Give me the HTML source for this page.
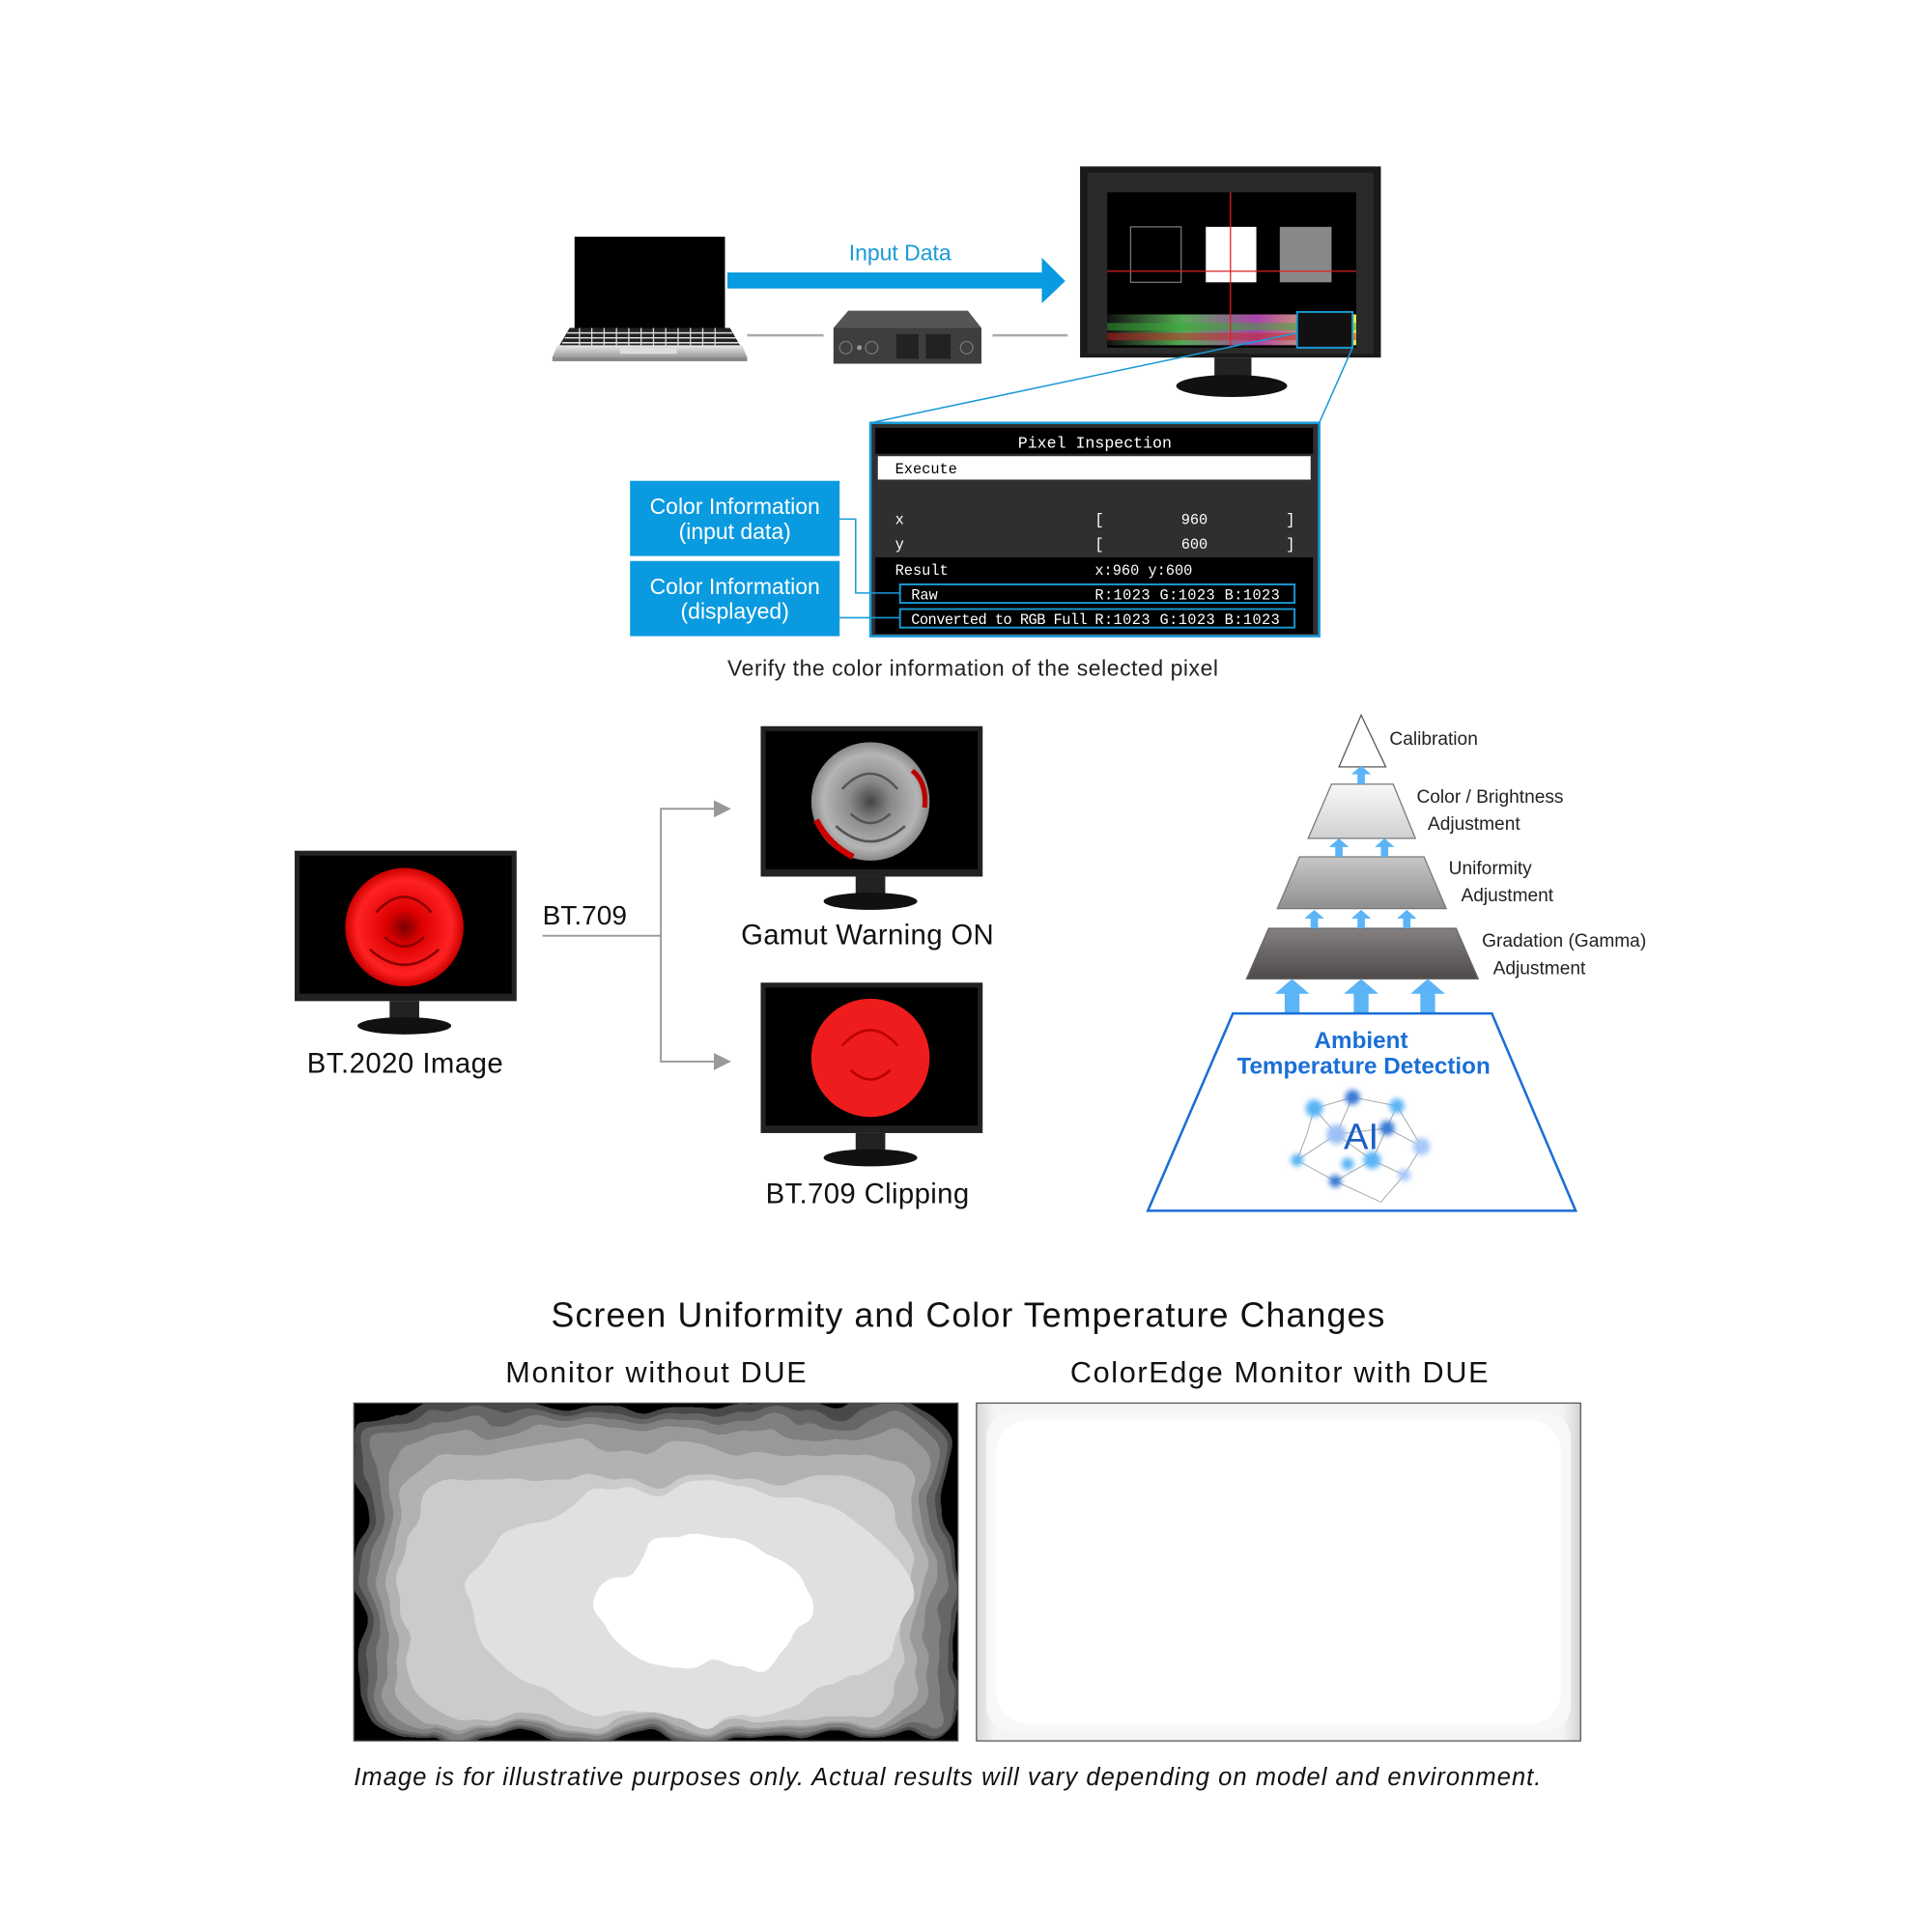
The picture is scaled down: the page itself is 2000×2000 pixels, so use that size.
<!DOCTYPE html>
<html><head><meta charset="utf-8"><style>
html,body{margin:0;padding:0;background:#fff;}
svg{display:block;font-family:"Liberation Sans",sans-serif;}
</style></head><body>
<svg width="2000" height="2000" viewBox="0 0 1567 1567" xmlns="http://www.w3.org/2000/svg">
<defs>
<linearGradient id="silver" x1="0" y1="0" x2="0" y2="1"><stop offset="0" stop-color="#e8e8e8"/><stop offset="1" stop-color="#9a9a9a"/></linearGradient>
<linearGradient id="spec" x1="0" y1="0" x2="1" y2="0"><stop offset="0" stop-color="#111"/><stop offset="0.3" stop-color="#5a5"/><stop offset="0.6" stop-color="#a4a"/><stop offset="1" stop-color="#ee4"/></linearGradient>
<linearGradient id="t2" x1="0" y1="0" x2="0" y2="1"><stop offset="0" stop-color="#f8f8f8"/><stop offset="1" stop-color="#d0d0d0"/></linearGradient>
<linearGradient id="t3" x1="0" y1="0" x2="0" y2="1"><stop offset="0" stop-color="#c8c6c6"/><stop offset="1" stop-color="#918e8e"/></linearGradient>
<linearGradient id="t4" x1="0" y1="0" x2="0" y2="1"><stop offset="0" stop-color="#858181"/><stop offset="1" stop-color="#4f4a4a"/></linearGradient>
<radialGradient id="rose" cx="0.5" cy="0.5" r="0.5"><stop offset="0" stop-color="#7a0000"/><stop offset="0.3" stop-color="#d00"/><stop offset="0.8" stop-color="#f22"/><stop offset="1" stop-color="#c00"/></radialGradient>
<radialGradient id="grose" cx="0.5" cy="0.5" r="0.5"><stop offset="0" stop-color="#444"/><stop offset="0.35" stop-color="#8a8a8a"/><stop offset="0.8" stop-color="#b5b5b5"/><stop offset="1" stop-color="#888"/></radialGradient>
<linearGradient id="rgrad" x1="0" y1="0" x2="1" y2="0"><stop offset="0" stop-color="#d8d8d8"/><stop offset="0.03" stop-color="#f4f4f4"/><stop offset="0.97" stop-color="#f4f4f4"/><stop offset="1" stop-color="#d4d4d4"/></linearGradient>
<filter id="rough"><feTurbulence type="fractalNoise" baseFrequency="0.02" numOctaves="2" seed="3"/><feDisplacementMap in="SourceGraphic" scale="30"/></filter>
<filter id="blur"><feGaussianBlur stdDeviation="2"/></filter>
<clipPath id="lp"><rect x="287" y="1138" width="490" height="274"/></clipPath>
</defs>

<!-- Laptop -->
<rect x="466" y="192" width="122" height="74" fill="#000"/>
<polygon points="462,266 592,266 606,290 448,290" fill="#222"/>
<g stroke="#ddd" stroke-width="1.2">
<line x1="460" y1="270" x2="594" y2="270"/><line x1="458" y1="274" x2="597" y2="274"/><line x1="456" y1="278" x2="599" y2="278"/>
</g>
<g stroke="#ddd" stroke-width="1"><path d="M470 266v14M480 266v14M490 266v14M500 266v14M510 266v14M520 266v14M530 266v14M540 266v14M550 266v14M560 266v14M570 266v14M580 266v14"/></g>
<polygon points="452,280 602,280 606,290 448,290" fill="url(#silver)"/>
<rect x="503" y="282" width="46" height="5" fill="#ddd"/>
<rect x="448" y="290" width="158" height="3" fill="#888"/>

<!-- arrow -->
<text x="730" y="211" font-size="18" fill="#1a9ad6" text-anchor="middle">Input Data</text>
<rect x="590" y="221" width="256" height="13" fill="#0a9ae0"/>
<polygon points="845,209 864,228 845,246" fill="#0a9ae0"/>
<line x1="606" y1="272" x2="668" y2="272" stroke="#aaa" stroke-width="2"/>
<line x1="805" y1="272" x2="866" y2="272" stroke="#aaa" stroke-width="2"/>
<!-- device -->
<polygon points="688,252 785,252 796,266 676,266" fill="#555"/>
<rect x="676" y="266" width="120" height="29" fill="#3e3e3e"/>
<circle cx="686" cy="282" r="5" fill="none" stroke="#777"/><circle cx="697" cy="282" r="2" fill="#999"/><circle cx="707" cy="282" r="5" fill="none" stroke="#777"/>
<rect x="727" y="271" width="18" height="20" fill="#222"/><rect x="751" y="271" width="20" height="20" fill="#222"/><circle cx="784" cy="282" r="5" fill="none" stroke="#777"/>

<!-- big monitor -->
<rect x="876" y="135" width="244" height="155" fill="#1a1a1a"/>
<rect x="882" y="140" width="232" height="147" fill="#2a2a2a"/>
<rect x="898" y="156" width="202" height="126" fill="#000"/>
<rect x="898" y="255" width="202" height="25" fill="url(#spec)"/>
<rect x="898" y="262" width="202" height="6" fill="#3a3" opacity="0.5"/>
<rect x="898" y="270" width="202" height="6" fill="#c22" opacity="0.5"/>
<rect x="917" y="184" width="41" height="45" fill="none" stroke="#777"/>
<rect x="978" y="184" width="41" height="45" fill="#fff"/>
<rect x="1038" y="184" width="42" height="45" fill="#888"/>
<line x1="998" y1="156" x2="998" y2="282" stroke="#d22" stroke-width="1"/>
<line x1="898" y1="220" x2="1100" y2="220" stroke="#d22" stroke-width="1"/>
<rect x="1052" y="253" width="45" height="29" fill="#111" stroke="#1a9ad6" stroke-width="1.5"/>
<rect x="985" y="290" width="30" height="18" fill="#222"/>
<ellipse cx="999" cy="313" rx="45" ry="9" fill="#111"/>
<line x1="1052" y1="270" x2="706" y2="343" stroke="#1a9ad6" stroke-width="1.2"/>
<line x1="1097" y1="282" x2="1070" y2="343" stroke="#1a9ad6" stroke-width="1.2"/>

<!-- panel -->
<rect x="706" y="343" width="364" height="173" fill="#2f2f2f" stroke="#1a9ad6" stroke-width="2"/>
<rect x="710" y="347" width="355" height="21" fill="#000"/>
<text x="888" y="363" font-size="13" fill="#fff" text-anchor="middle" font-family="Liberation Mono,monospace">Pixel Inspection</text>
<rect x="712" y="370" width="351" height="19" fill="#fff"/>
<text x="726" y="384" font-size="12" fill="#000" font-family="Liberation Mono,monospace">Execute</text>
<g font-size="12" fill="#fff" font-family="Liberation Mono,monospace">
<text x="726" y="425">x</text><text x="888" y="425">[</text><text x="958" y="425">960</text><text x="1043" y="425">]</text>
<text x="726" y="445">y</text><text x="888" y="445">[</text><text x="958" y="445">600</text><text x="1043" y="445">]</text>
</g>
<rect x="710" y="452" width="355" height="62" fill="#000"/>
<g font-size="12" fill="#fff" font-family="Liberation Mono,monospace">
<text x="726" y="466">Result</text><text x="888" y="466">x:960  y:600</text>
<rect x="730" y="474" width="320" height="15" fill="none" stroke="#1a9ad6" stroke-width="1.5"/>
<text x="739" y="486">Raw</text><text x="888" y="486" textLength="150">R:1023 G:1023 B:1023</text>
<rect x="730" y="494" width="320" height="15" fill="none" stroke="#1a9ad6" stroke-width="1.5"/>
<text x="739" y="506" textLength="143">Converted to RGB Full</text><text x="888" y="506" textLength="150">R:1023 G:1023 B:1023</text>
</g>
<rect x="511" y="390" width="170" height="61" fill="#0a9ae0"/>
<rect x="511" y="455" width="170" height="61" fill="#0a9ae0"/>
<g font-size="18" fill="#fff" text-anchor="middle">
<text x="596" y="417">Color Information</text><text x="596" y="437">(input data)</text>
<text x="596" y="482">Color Information</text><text x="596" y="502">(displayed)</text>
</g>
<polyline points="681,421 694,421 694,481 730,481" fill="none" stroke="#1a9ad6" stroke-width="1.2"/>
<line x1="681" y1="501" x2="730" y2="501" stroke="#1a9ad6" stroke-width="1.2"/>
<text x="590" y="548" font-size="18" fill="#222" textLength="398">Verify the color information of the selected pixel</text>

<!-- middle monitors -->
<g>
<rect x="239" y="690" width="180" height="122" fill="#222"/><rect x="243" y="694" width="172" height="112" fill="#000"/>
<circle cx="328" cy="752" r="48" fill="url(#rose)"/>
<g fill="none" stroke="#8a0000" stroke-width="2"><path d="M305 740q23-25 45 0"/><path d="M312 760q16 15 32 0"/><path d="M300 770q28 25 56 0"/></g>
<rect x="316" y="812" width="24" height="16" fill="#222"/><ellipse cx="328" cy="832" rx="38" ry="7" fill="#111"/>
</g>
<text x="249" y="870" font-size="23" fill="#111" textLength="159">BT.2020 Image</text>
<text x="440" y="750" font-size="22" fill="#111">BT.709</text>
<polyline points="440,759 536,759" fill="none" stroke="#999" stroke-width="1.5"/>
<polyline points="580,656 536,656 536,861 580,861" fill="none" stroke="#999" stroke-width="1.5"/>
<polygon points="579,649 593,656 579,663" fill="#999"/><polygon points="579,854 593,861 579,868" fill="#999"/>

<rect x="617" y="589" width="180" height="122" fill="#222"/><rect x="621" y="593" width="172" height="112" fill="#000"/>
<circle cx="706" cy="650" r="48" fill="url(#grose)"/>
<g fill="none" stroke="#555" stroke-width="2"><path d="M683 640q23-25 45 0"/><path d="M690 660q16 15 32 0"/><path d="M678 670q28 25 56 0"/></g>
<path d="M662 665q10 20 30 30" stroke="#c00" stroke-width="5" fill="none"/><path d="M740 625q12 10 10 30" stroke="#b00" stroke-width="4" fill="none"/>
<rect x="694" y="711" width="24" height="16" fill="#222"/><ellipse cx="706" cy="731" rx="38" ry="7" fill="#111"/>
<text x="601" y="766" font-size="23" fill="#111" textLength="205">Gamut Warning ON</text>

<rect x="617" y="797" width="180" height="122" fill="#222"/><rect x="621" y="801" width="172" height="112" fill="#000"/>
<circle cx="706" cy="858" r="48" fill="#ee1c1c"/>
<g fill="none" stroke="#b00" stroke-width="2"><path d="M683 848q23-25 45 0"/><path d="M690 868q16 15 32 0"/></g>
<rect x="694" y="919" width="24" height="16" fill="#222"/><ellipse cx="706" cy="939" rx="38" ry="7" fill="#111"/>
<text x="621" y="976" font-size="23" fill="#111" textLength="165">BT.709 Clipping</text>

<!-- pyramid -->
<polygon points="1104,580 1124,622 1086,622" fill="#fff" stroke="#555" stroke-width="1"/>
<polygon points="1080,636 1130,636 1148,680 1061,680" fill="url(#t2)" stroke="#777" stroke-width="1"/>
<polygon points="1054,695 1155,695 1173,737 1036,737" fill="url(#t3)" stroke="#777" stroke-width="1"/>
<polygon points="1029,753 1181,753 1199,794 1011,794" fill="url(#t4)" stroke="#666" stroke-width="1"/>
<g fill="#5ab4f5">
<path d="M1101 636v-8h-5l8-7 8 7h-5v8z"/>
<path d="M1083 695v-8h-5l8-7 8 7h-5v8z"/><path d="M1120 695v-8h-5l8-7 8 7h-5v8z"/>
<path d="M1063 753v-8h-5l8-7 8 7h-5v8z"/><path d="M1101 753v-8h-5l8-7 8 7h-5v8z"/><path d="M1138 753v-8h-5l8-7 8 7h-5v8z"/>
<path d="M1042 822v-16h-8l14-12 14 12h-8v16z"/><path d="M1098 822v-16h-8l14-12 14 12h-8v16z"/><path d="M1152 822v-16h-8l14-12 14 12h-8v16z"/>
</g>
<polygon points="1000,822 1210,822 1278,982 931,982" fill="#fff" stroke="#1a6fd6" stroke-width="2"/>
<g font-size="15" fill="#222">
<text x="1127" y="604">Calibration</text>
<text x="1149" y="651">Color / Brightness</text><text x="1158" y="673">Adjustment</text>
<text x="1175" y="709">Uniformity</text><text x="1185" y="731">Adjustment</text>
<text x="1202" y="768">Gradation (Gamma)</text><text x="1211" y="790">Adjustment</text>
</g>
<g font-size="19" font-weight="bold" fill="#1a6fd6" text-anchor="middle">
<text x="1104" y="850">Ambient</text><text x="1106" y="871">Temperature Detection</text>
</g>
<g stroke="#aaa" stroke-width="0.8" fill="none">
<path d="M1066 899L1097 890L1133 897L1153 930L1139 953L1120 975L1083 958L1052 941L1060 920L1066 899M1097 890L1084 920L1113 941L1139 953M1066 899L1084 920L1052 941M1133 897L1113 941L1083 958M1125 915L1153 930M1084 920L1125 915"/>
</g>
<g filter="url(#blur)">
<circle cx="1066" cy="899" r="7" fill="#5ab4f5"/><circle cx="1097" cy="890" r="6" fill="#3a7ad6"/><circle cx="1133" cy="897" r="6" fill="#5ab4f5"/>
<circle cx="1084" cy="920" r="8" fill="#9cc0f5"/><circle cx="1125" cy="915" r="6" fill="#3a7ad6"/><circle cx="1153" cy="930" r="7" fill="#a8c8f8"/>
<circle cx="1052" cy="941" r="5" fill="#5ab4f5"/><circle cx="1113" cy="941" r="7" fill="#5ab4f5"/><circle cx="1093" cy="944" r="5" fill="#5ab4f5"/>
<circle cx="1083" cy="958" r="5" fill="#3a7ad6"/><circle cx="1139" cy="953" r="5" fill="#a8c8f8"/>
</g>
<text x="1104" y="932" font-size="30" fill="#1a5fc6" text-anchor="middle">AI</text>

<!-- bottom -->
<text x="447" y="1076" font-size="28" fill="#111" textLength="676">Screen Uniformity and Color Temperature Changes</text>
<text x="410" y="1121" font-size="24" fill="#111" textLength="244">Monitor without DUE</text>
<text x="868" y="1121" font-size="24" fill="#111" textLength="339">ColorEdge Monitor with DUE</text>
<g clip-path="url(#lp)">
<rect x="287" y="1138" width="490" height="274" fill="#000"/>
<g filter="url(#rough)">
<rect x="292" y="1140" width="480" height="270" rx="40" fill="#4a4a4a"/>
<rect x="298" y="1146" width="470" height="262" rx="35" fill="#666"/>
<rect x="305" y="1152" width="455" height="254" rx="30" fill="#808080"/>
<rect x="312" y="1160" width="440" height="242" rx="30" fill="#999"/>
<rect x="320" y="1175" width="425" height="225" rx="40" fill="#b2b2b2"/>
<rect x="330" y="1200" width="405" height="195" rx="50" fill="#cbcbcb"/>
<ellipse cx="560" cy="1300" rx="180" ry="95" fill="#e0e0e0"/>
<ellipse cx="570" cy="1300" rx="85" ry="55" fill="#fff"/>
</g>
</g>
<rect x="287" y="1138" width="490" height="274" fill="none" stroke="#555" stroke-width="1"/>
<rect x="792" y="1138" width="490" height="274" fill="url(#rgrad)" stroke="#555" stroke-width="1"/>
<rect x="800" y="1146" width="474" height="258" rx="20" fill="#f8f8f8"/>
<rect x="808" y="1152" width="458" height="246" rx="25" fill="#fff"/>
<text x="287" y="1448" font-size="20" font-style="italic" fill="#111" textLength="963">Image is for illustrative purposes only. Actual results will vary depending on model and environment.</text>
</svg>
</body></html>
